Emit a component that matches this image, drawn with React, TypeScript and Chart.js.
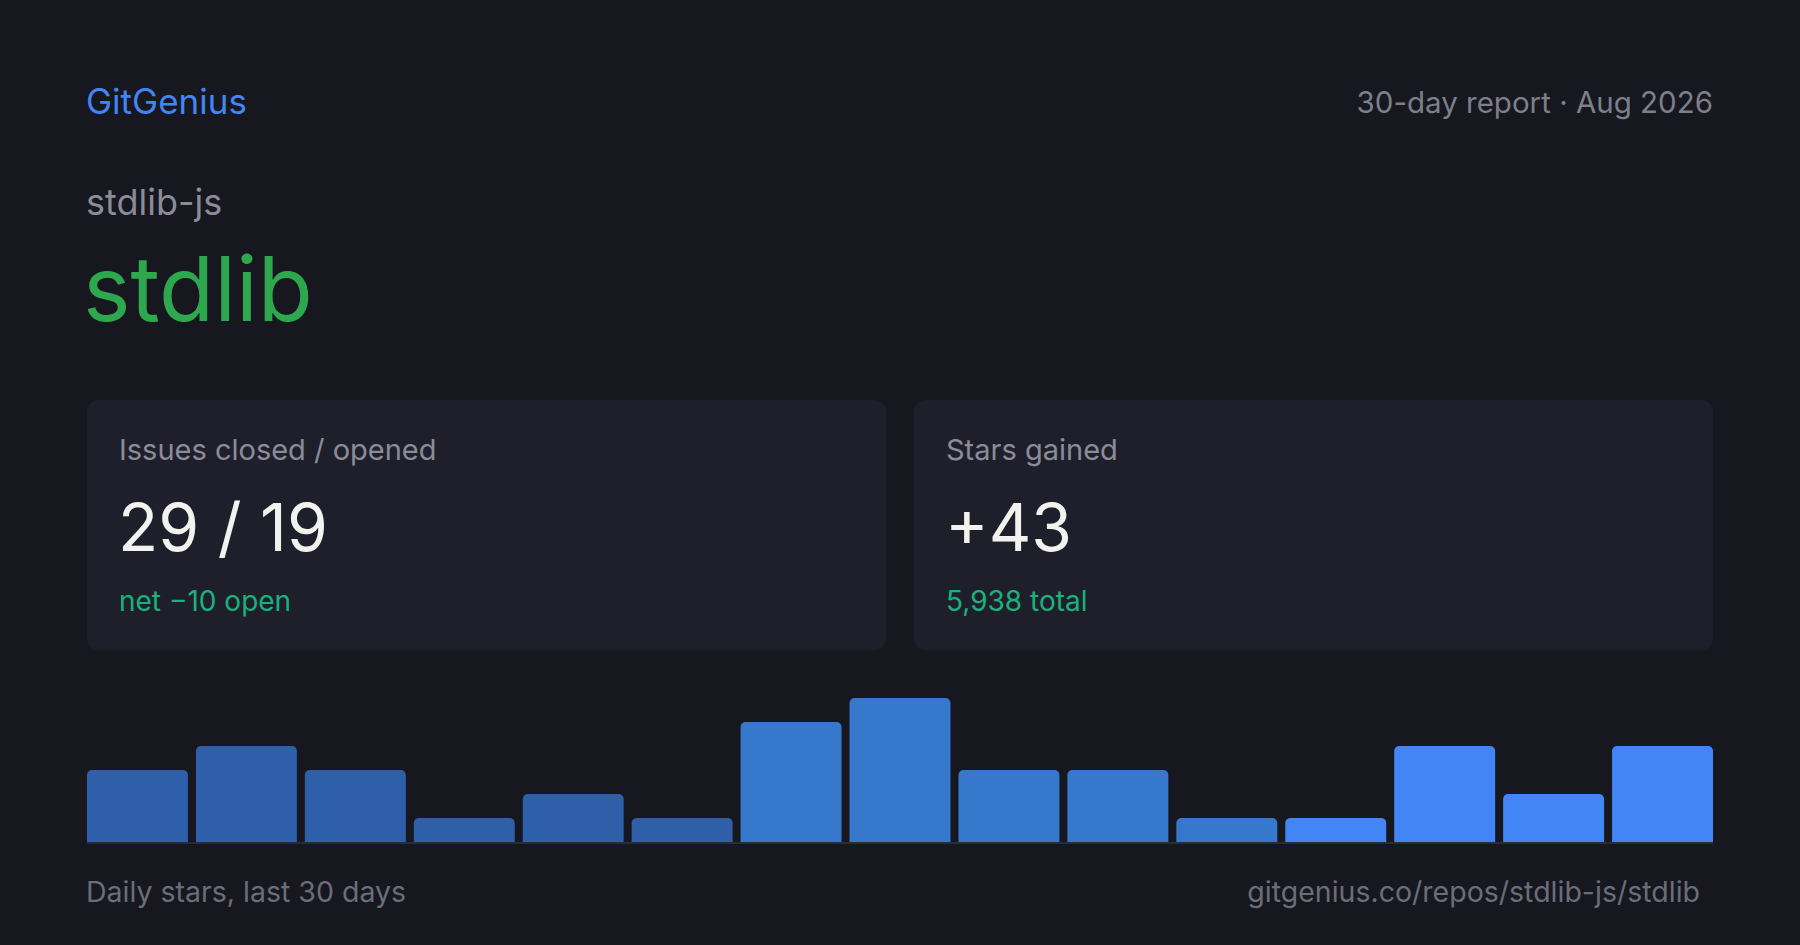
import React, { useEffect, useRef } from "react";
import { Chart, registerables } from "chart.js";

Chart.register(...registerables);

const bins = ["1", "2", "3", "4", "5", "6", "7", "8", "9", "10", "11", "12", "13", "14", "15"];
const dailyStars = [3, 4, 3, 1, 2, 1, 5, 6, 3, 3, 1, 1, 4, 2, 4];
const barColors = [
  "#2e5fa8", "#2e5fa8", "#2e5fa8", "#2e5fa8", "#2e5fa8", "#2e5fa8",
  "#3678cc", "#3678cc", "#3678cc", "#3678cc", "#3678cc",
  "#4285f4", "#4285f4", "#4285f4", "#4285f4",
];
const yMax = 6;

const brand = "GitGenius";
const reportLabel = "30-day report · Aug 2026";
const owner = "stdlib-js";
const repo = "stdlib";
const cardTitles = ["Issues closed / opened", "Stars gained"];
const cardValues = ["29 / 19", "+43"];
const cardSubs = ["net −10 open", "5,938 total"];
const footerLeft = "Daily stars, last 30 days";
const footerRight = "gitgenius.co/repos/stdlib-js/stdlib";

const FONT = "Inter, 'Noto Sans', sans-serif";

function StarsChart() {
  const ref = useRef<HTMLCanvasElement | null>(null);
  useEffect(() => {
    if (!ref.current) return;
    const chart = new Chart(ref.current, {
      type: "bar",
      data: {
        labels: bins,
        datasets: [
          {
            data: dailyStars,
            backgroundColor: barColors,
            borderRadius: { topLeft: 5, topRight: 5, bottomLeft: 0, bottomRight: 0 },
            borderSkipped: "bottom",
            categoryPercentage: 1,
            barPercentage: 0.927,
          },
        ],
      },
      options: {
        animation: false,
        responsive: false,
        maintainAspectRatio: false,
        layout: { padding: 0 },
        plugins: { legend: { display: false }, tooltip: { enabled: false }, title: { display: false } },
        scales: {
          x: { display: false },
          y: { display: false, min: 0, max: yMax },
        },
      },
    });
    return () => chart.destroy();
  }, []);
  return <canvas ref={ref} width={1634} height={144} style={{ width: 1634, height: 144, display: "block" }} />;
}

function Card({ left, i }: { left: number; i: number }) {
  return (
    <div
      style={{
        position: "absolute",
        left,
        top: 400,
        width: 799,
        height: 250,
        background: "#1f1f2b",
        borderRadius: 12,
      }}
    >
      <div style={{ position: "absolute", left: 32, top: 35, fontSize: 29, lineHeight: 1, color: "#8b8c98", whiteSpace: "nowrap" }}>
        {cardTitles[i]}
      </div>
      <div style={{ position: "absolute", left: 31, top: 94, fontSize: 66, lineHeight: 1, color: "#f2f2ee", whiteSpace: "nowrap" }}>
        {cardValues[i]}
      </div>
      <div style={{ position: "absolute", left: 32, top: 187, fontSize: 28, lineHeight: 1, color: "#1ab27c", whiteSpace: "nowrap" }}>
        {cardSubs[i]}
      </div>
    </div>
  );
}

export default function App() {
  return (
    <div
      style={{
        position: "fixed",
        left: 0,
        top: 0,
        width: 1800,
        height: 945,
        background: "#16171f",
        fontFamily: FONT,
        overflow: "hidden",
      }}
    >
      <div style={{ position: "absolute", left: 86, top: 84, fontSize: 35, lineHeight: 1, color: "#4285f4", whiteSpace: "nowrap" }}>
        {brand}
      </div>
      <div style={{ position: "absolute", right: 87, top: 88, fontSize: 29.5, lineHeight: 1, color: "#7d7f8a", whiteSpace: "nowrap" }}>
        {reportLabel}
      </div>
      <div style={{ position: "absolute", left: 86, top: 184, fontSize: 36, lineHeight: 1, color: "#8b8c98", whiteSpace: "nowrap" }}>
        {owner}
      </div>
      <div style={{ position: "absolute", left: 83, top: 244, fontSize: 90, lineHeight: 1, color: "#2ea84f", whiteSpace: "nowrap" }}>
        {repo}
      </div>
      <Card left={87} i={0} />
      <Card left={914} i={1} />
      <div style={{ position: "absolute", left: 83, top: 698 }}>
        <StarsChart />
      </div>
      <div style={{ position: "absolute", left: 87, top: 842, width: 1626, height: 2, background: "#2a2b36" }} />
      <div style={{ position: "absolute", left: 86, top: 878, fontSize: 28.5, lineHeight: 1, color: "#6b6d79", whiteSpace: "nowrap" }}>
        {footerLeft}
      </div>
      <div style={{ position: "absolute", right: 100, top: 878, fontSize: 28.5, lineHeight: 1, color: "#6b6d79", whiteSpace: "nowrap" }}>
        {footerRight}
      </div>
    </div>
  );
}
